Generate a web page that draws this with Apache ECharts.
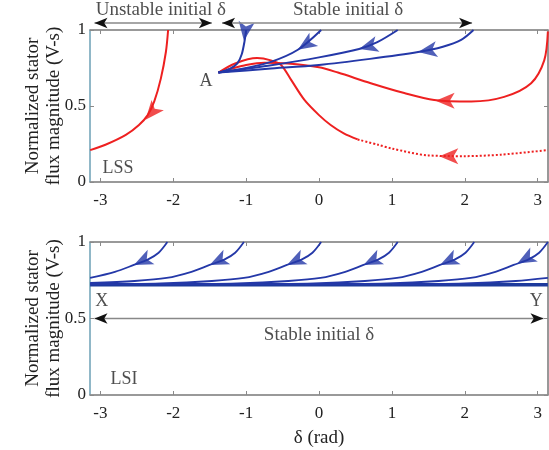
<!DOCTYPE html>
<html>
<head>
<meta charset="utf-8">
<script src="https://cdn.jsdelivr.net/npm/echarts@6/dist/echarts.min.js"></script>
<style>
html, body {margin: 0; padding: 0; background: #fff;}
#main {width: 549px; height: 450px;}
</style>
</head>
<body>
<div id="main"></div>
<script>
var xTicks = [-3, -2, -1, 0, 1, 2, 3];
var PI = 3.1416;

// top panel (LSS): trajectories [delta, flux]
var redLeft = [[-2.07, 1], [-2.1, 0.857], [-2.17, 0.68], [-2.26, 0.53], [-2.35, 0.44], [-2.47, 0.375], [-2.65, 0.31], [-2.93, 0.245], [-3.14, 0.21]];
var redRight = [[3.14, 0.99], [3.09, 0.8], [2.91, 0.65], [2.54, 0.56], [2.09, 0.53], [1.58, 0.54], [1.17, 0.585], [0.71, 0.65], [0.26, 0.72], [0, 0.755], [-0.43, 0.78], [-0.75, 0.785], [-1.0, 0.77], [-1.2, 0.745], [-1.38, 0.72]];
var redDown = [[-1.38, 0.72], [-1.15, 0.78], [-0.85, 0.815], [-0.66, 0.8], [-0.52, 0.77], [-0.38, 0.67], [-0.2, 0.54], [0, 0.44], [0.16, 0.375], [0.34, 0.32], [0.53, 0.28]];
var redDotted = [[0.53, 0.28], [0.81, 0.245], [1.0, 0.22], [1.5, 0.175], [2.0, 0.17], [2.5, 0.18], [3.14, 0.21]];
var blueA1 = [[-1.0, 1], [-1.02, 0.93], [-1.06, 0.84], [-1.12, 0.78], [-1.22, 0.745], [-1.38, 0.72]];
var blueA2 = [[0.03, 1], [-0.29, 0.87], [-0.66, 0.79], [-1.0, 0.75], [-1.38, 0.72]];
var blueA3 = [[1.08, 1], [0.8, 0.92], [0.55, 0.875], [0, 0.82], [-0.7, 0.765], [-1.38, 0.72]];
var blueA4 = [[2.12, 1], [1.95, 0.935], [1.7, 0.89], [1.36, 0.855], [0.7, 0.81], [0, 0.77], [-0.7, 0.745], [-1.38, 0.72]];
// arrowheads [delta, flux, rotation]
var topRedArrows = [[-2.38, 0.41, 140], [1.6, 0.535, 90], [1.65, 0.17, 90]];
var topBlueArrows = [[-1.03, 0.93, 172], [-0.29, 0.87, 123], [0.55, 0.875, 105], [1.36, 0.855, 99]];

// bottom panel (LSI)
var lsiSteady = [[-3.14, 0.72], [3.14, 0.72]];
var lsiCurves = [
    [[-2.08, 1], [-2.2, 0.93], [-2.35, 0.885], [-2.54, 0.85], [-2.8, 0.805], [-3.14, 0.765]],
    [[3.14, 0.765], [2.7, 0.745], [2.0, 0.73], [1.0, 0.724]],
    [[-1.03, 1], [-1.15, 0.93], [-1.3, 0.885], [-1.5, 0.85], [-1.75, 0.805], [-2.09, 0.765], [-2.53, 0.745], [-3.14, 0.732]],
    [[0.03, 1], [-0.09, 0.93], [-0.24, 0.885], [-0.44, 0.85], [-0.69, 0.805], [-1.03, 0.765], [-1.47, 0.745], [-2.17, 0.73], [-3.14, 0.724]],
    [[1.08, 1], [0.96, 0.93], [0.81, 0.885], [0.61, 0.85], [0.36, 0.805], [0.02, 0.765], [-0.42, 0.745], [-1.12, 0.73], [-2.2, 0.724]],
    [[2.13, 1], [2.01, 0.93], [1.86, 0.885], [1.66, 0.85], [1.41, 0.805], [1.07, 0.765], [0.63, 0.745], [-0.07, 0.73], [-1.2, 0.724]],
    [[3.14, 1], [3.02, 0.93], [2.87, 0.885], [2.67, 0.85], [2.42, 0.805], [2.08, 0.765], [1.64, 0.745], [0.94, 0.73], [-0.2, 0.724]]
];
var lsiArrows = [[-2.54, 0.85, 115], [-1.5, 0.85, 115], [-0.44, 0.85, 115], [0.61, 0.85, 115], [1.66, 0.85, 115], [2.72, 0.86, 118]];

var RED = '#ee2020';
var BLUE = '#2438a8';
var SERIF = 'Liberation Serif';

function curve(g, data, color, width, type) {
    return {
        type: 'line', xAxisIndex: g, yAxisIndex: g, data: data,
        symbol: 'none', smooth: 0.3, silent: true,
        lineStyle: {color: color, width: width, type: type || 'solid'}
    };
}
function arrows(g, list, color) {
    return {
        type: 'scatter', xAxisIndex: g, yAxisIndex: g, silent: true,
        symbol: 'arrow', symbolSize: [12, 19],
        itemStyle: {color: color},
        data: list.map(function (a) { return {value: [a[0], a[1]], symbolRotate: a[2]}; })
    };
}
function txt(g, x, y, s, size, align) {
    return {
        type: 'scatter', xAxisIndex: g, yAxisIndex: g, silent: true, symbolSize: 0, clip: false,
        data: [[x, y]],
        label: {show: true, formatter: s, position: 'inside', align: align || 'center',
            fontFamily: SERIF, fontSize: size, color: '#222'}
    };
}
function span(g, x1, x2, y) {
    return {
        type: 'line', xAxisIndex: g, yAxisIndex: g, clip: false, silent: true,
        symbol: 'arrow', symbolSize: [8, 13], showSymbol: true,
        lineStyle: {color: '#888', width: 1.5},
        itemStyle: {color: '#111'},
        data: [
            {value: [x1, y], symbolRotate: 90},
            {value: [x2, y], symbolRotate: -90}
        ]
    };
}

function xAx(g, pos) {
    var main = pos === 'bottom';
    return {
        type: 'value', gridIndex: g, position: pos, min: -PI, max: PI,
        name: (main && g === 1) ? 'δ (rad)' : '', nameLocation: 'middle', nameGap: 34,
        nameTextStyle: {fontFamily: SERIF, fontSize: 19, color: '#222'},
        axisLine: {show: true, onZero: false, lineStyle: {color: '#8a8a8a', width: 1.5}},
        axisTick: {show: true, inside: true, length: 4, customValues: xTicks, lineStyle: {color: '#8a8a8a'}},
        axisLabel: {show: main, customValues: xTicks, fontFamily: SERIF, fontSize: 17, color: '#222', margin: 10},
        splitLine: {show: false}
    };
}
function yAx(g, pos) {
    var main = pos === 'left';
    return {
        type: 'value', gridIndex: g, position: pos, min: 0, max: 1, interval: 0.5,
        name: main ? 'Normalized stator\nflux magnitude (V-s)' : '', nameLocation: 'middle', nameGap: 25,
        nameMoveOverlap: false,
        nameTextStyle: {fontFamily: SERIF, fontSize: 19, color: '#222', lineHeight: 21},
        axisLine: {show: true, onZero: false, lineStyle: {color: main ? '#7fb3c8' : '#8a8a8a', width: 1.5}},
        axisTick: {show: true, inside: true, length: 4, lineStyle: {color: '#8a8a8a'}},
        axisLabel: {show: main, fontFamily: SERIF, fontSize: 17, color: '#222', margin: 4},
        splitLine: {show: false}
    };
}

var series = [
    curve(0, redLeft, RED, 2),
    curve(0, redRight, RED, 2),
    curve(0, redDown, RED, 2),
    curve(0, redDotted, RED, 2, 'dotted'),
    curve(0, blueA1, BLUE, 2),
    curve(0, blueA2, BLUE, 2),
    curve(0, blueA3, BLUE, 2),
    curve(0, blueA4, BLUE, 2),
    arrows(0, topRedArrows, RED),
    arrows(0, topBlueArrows, BLUE),
    span(0, -3.08, -1.47, 1.046),
    span(0, -1.33, 2.1, 1.046),
    txt(0, -2.17, 1.13, 'Unstable initial δ', 19),
    txt(0, 0.4, 1.13, 'Stable initial δ', 19),
    txt(0, -1.55, 0.66, 'A', 18),
    txt(0, -2.97, 0.09, 'LSS', 18, 'left'),
    curve(1, lsiSteady, '#1d3a9c', 3.5)
];
lsiCurves.forEach(function (c) { series.push(curve(1, c, BLUE, 1.8)); });
series.push(arrows(1, lsiArrows, BLUE));
series.push(span(1, -3.08, 3.08, 0.5));
series.push(txt(1, 0, 0.39, 'Stable initial δ', 19));
series.push(txt(1, -2.98, 0.61, 'X', 18));
series.push(txt(1, 2.98, 0.61, 'Y', 18));
series.push(txt(1, -2.86, 0.1, 'LSI', 18, 'left'));

var chart = echarts.init(document.getElementById('main'));
chart.setOption({
    animation: false,
    backgroundColor: '#fff',
    grid: [
        {left: 90, top: 30, width: 458, height: 152, show: true, borderColor: '#8a8a8a', borderWidth: 1},
        {left: 90, top: 242, width: 458, height: 153, show: true, borderColor: '#8a8a8a', borderWidth: 1}
    ],
    xAxis: [xAx(0, 'bottom'), xAx(1, 'bottom'), xAx(0, 'top'), xAx(1, 'top')],
    yAxis: [yAx(0, 'left'), yAx(1, 'left'), yAx(0, 'right'), yAx(1, 'right')],
    series: series
});
</script>
</body>
</html>
